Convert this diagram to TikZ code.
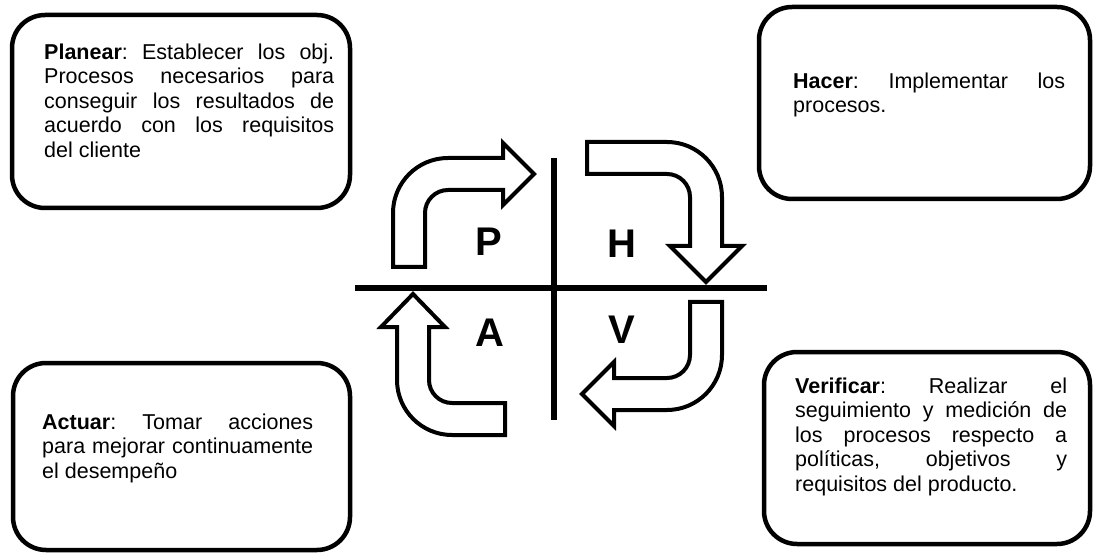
\documentclass[tikz,border=0pt]{standalone}
\usepackage{fontspec}
\setmainfont{Liberation Sans}
\usetikzlibrary{positioning}
\newcommand{\cardfont}{\fontsize{21.5}{24.5}\selectfont\frenchspacing}

\begin{document}
\begin{tikzpicture}[x=1pt,y=-1pt,
    card/.style={draw, line width=4.5pt, rounded corners=33pt, inner sep=0pt},
    cardtext/.style={anchor=north west, inner sep=0pt, align=justify, font=\cardfont},
    block/.style={draw, line width=4pt},
    letter/.style={font=\fontsize{40}{40}\selectfont\bfseries}]
    \useasboundingbox (0,0) rectangle (1093,556);
    % Boxes
    \node[card, minimum width=338pt, minimum height=193pt] (planbox) at (181,111.5) {};
    \node[cardtext, text width=290pt] (plantext) at (44,41.85) {\strut\textbf{Planear}: Establecer los obj.\linebreak Procesos necesarios para\linebreak conseguir los resultados de\linebreak acuerdo con los requisitos\linebreak del cliente};
    \node[card, minimum width=331pt, minimum height=192pt] (hacbox) at (924.5,103) {};
    \node[cardtext, text width=272pt] (hactext) at (793,70.85) {\strut\textbf{Hacer}: Implementar los\linebreak procesos.};
    \node[card, minimum width=337pt, minimum height=187pt] (actbox) at (181.5,456.5) {};
    \node[cardtext, text width=271pt] (acttext) at (42,411.85) {\strut\textbf{Actuar}: Tomar acciones\linebreak para mejorar continuamente\linebreak el desempeño};
    \node[card, minimum width=326pt, minimum height=192pt] (verbox) at (927,448) {};
    \node[cardtext, text width=272pt] (vertext) at (795,375.85) {\strut\textbf{Verificar}: Realizar el\linebreak seguimiento y medición de\linebreak los procesos respecto a\linebreak políticas, objetivos y\linebreak requisitos del producto.};
    % Cross
    \draw[line width=6pt] (554,158) -- (554,420);
    \draw[line width=6pt] (355,288) -- (767,288);
    \node[letter] (p) at (489,242) {P};
    \node[letter] (h) at (622,244) {H};
    \node[letter] (a) at (490,333) {A};
    \node[letter] (v) at (622,330) {V};
    % Arrows
    \draw[block] (393,267) -- (393,213) arc[start angle=180, end angle=270, radius=55]
        -- (503,158) -- (503,143) -- (534,174) -- (503,205) -- (503,190)
        -- (448,190) arc[start angle=270, end angle=180, radius=23] -- (425,267) -- cycle;
    \draw[block] (587,142) -- (667,142) arc[start angle=270, end angle=360, radius=55]
        -- (722,246) -- (742,246) -- (706,282) -- (670,246) -- (690,246)
        -- (690,197) arc[start angle=0, end angle=-90, radius=23] -- (587,174) -- cycle;
    \draw[block] (690,302) -- (722,302) -- (722,355) arc[start angle=0, end angle=90, radius=55]
        -- (614,410) -- (614,426) -- (582,394) -- (614,362) -- (614,378)
        -- (667,378) arc[start angle=90, end angle=0, radius=23] -- cycle;
    \draw[block] (505,435) -- (452,435) arc[start angle=90, end angle=180, radius=55]
        -- (397,327) -- (381,327) -- (413,294) -- (445,327) -- (429,327)
        -- (429,380) arc[start angle=180, end angle=90, radius=23] -- (505,403) -- cycle;
\end{tikzpicture}
\end{document}
